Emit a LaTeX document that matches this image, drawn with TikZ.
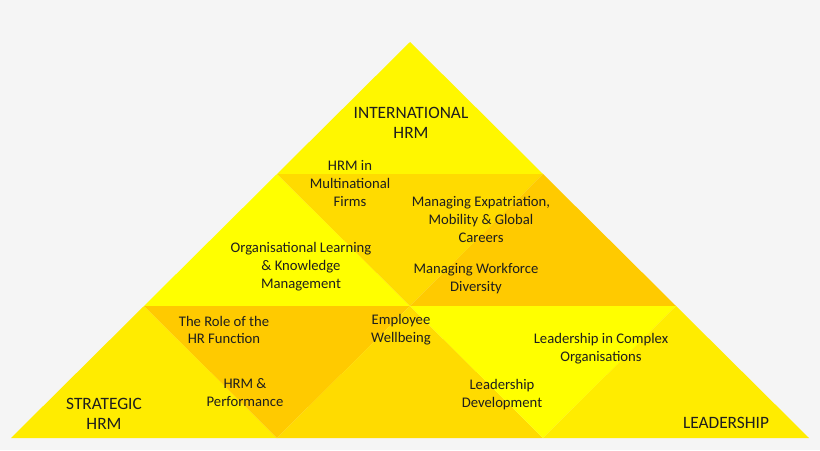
\documentclass[tikz,border=0pt]{standalone}
\usepackage{fontspec}
\setmainfont{Carlito}
\usetikzlibrary{calc}

\definecolor{backgray}{HTML}{F5F5F5}
\definecolor{topyellow}{HTML}{FFF700}
\definecolor{brightyellow}{HTML}{FFFF00}
\definecolor{sideyellow}{HTML}{FFEC00}
\definecolor{midyellow}{HTML}{FFDB00}
\definecolor{darkyellow}{HTML}{FFCA00}
\definecolor{labeltext}{HTML}{1E1E1E}

\begin{document}
\begin{tikzpicture}[x=0.75pt, y=-0.75pt,
  topic/.style={align=center, text=labeltext, font=\fontsize{11}{13.4}\selectfont},
  corner/.style={align=center, text=labeltext, font=\fontsize{13}{15}\selectfont}]
\fill[backgray] (0,0) rectangle (820,450);
\useasboundingbox (0,0) rectangle (820,450);

\coordinate (a) at (410,42);
\coordinate (b1) at (277,174);
\coordinate (b2) at (543,174);
\coordinate (c1) at (144,306);
\coordinate (c2) at (410,306);
\coordinate (c3) at (676,306);
\coordinate (d1) at (11,438);
\coordinate (d2) at (277,438);
\coordinate (d3) at (543,438);
\coordinate (d4) at (809,438);

\fill[topyellow] (a) -- (b1) -- (b2) -- cycle;
\fill[brightyellow] (b1) -- (c1) -- (c2) -- cycle;
\fill[midyellow] (b1) -- (b2) -- (c2) -- cycle;
\fill[darkyellow] (b2) -- (c2) -- (c3) -- cycle;
\fill[sideyellow] (c1) -- (d1) -- (d2) -- cycle;
\fill[darkyellow] (c1) -- (c2) -- (d2) -- cycle;
\fill[midyellow] (c2) -- (d2) -- (d3) -- cycle;
\fill[brightyellow] (c2) -- (c3) -- (d3) -- cycle;
\fill[sideyellow] (c3) -- (d3) -- (d4) -- cycle;

\node[corner] (intl) at (411, 123) {INTERNATIONAL\\HRM};
\node[corner] (strategic) at (104, 414) {STRATEGIC\\HRM};
\node[corner] (leadership) at (726, 423) {LEADERSHIP};

\node[topic] (multinational) at (350, 183.5) {HRM in\\Multinational\\Firms};
\node[topic] (expat) at (481, 219.5) {Managing Expatriation,\\Mobility \& Global\\Careers};
\node[topic] (learning) at (301, 267) {Organisational Learning\\\& Knowledge\\Management};
\node[topic] (diversity) at (476, 279) {Managing Workforce\\Diversity};
\node[topic] (hrrole) at (224, 330) {The Role of the\\HR Function};
\node[topic] (wellbeing) at (401, 330) {Employee\\Wellbeing};
\node[topic] (performance) at (245, 392.5) {HRM \&\\Performance};
\node[topic] (complex) at (601, 348.5) {Leadership in Complex\\Organisations};
\node[topic] (development) at (502, 395) {Leadership\\Development};

\end{tikzpicture}
\end{document}
